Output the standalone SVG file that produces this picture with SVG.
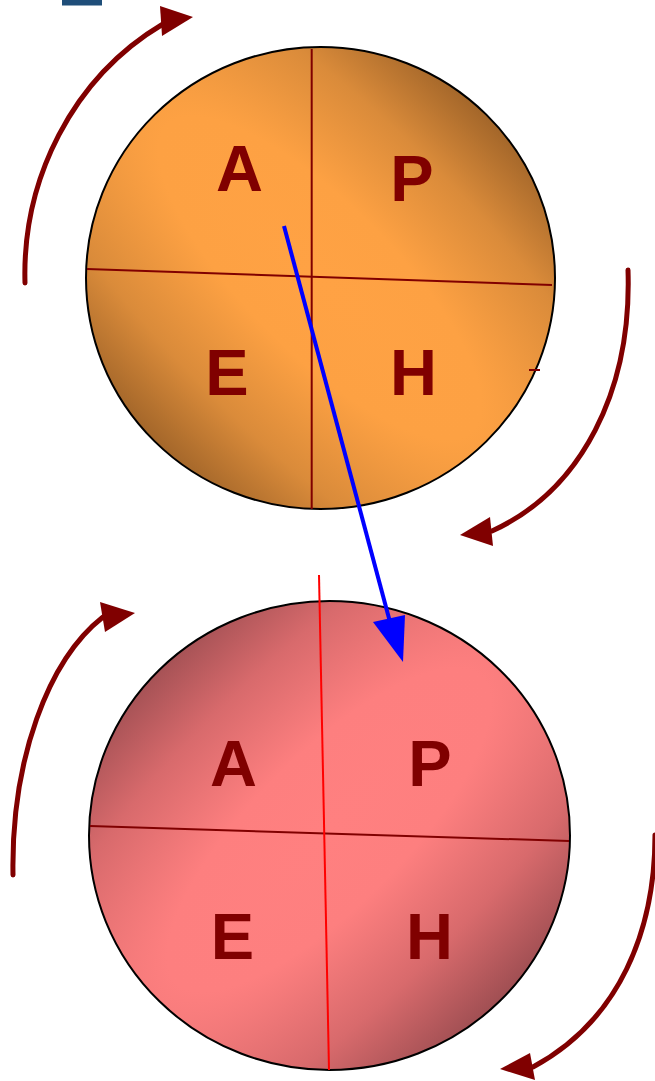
<svg xmlns="http://www.w3.org/2000/svg" width="655" height="1081" viewBox="0 0 655 1081">
<style>
.disk{stroke:#000;stroke-width:2}
.div{stroke:#800000;stroke-width:2}
.lbl{font-family:"Liberation Sans",Arial,sans-serif;font-weight:bold;font-size:65px;fill:#800000;text-anchor:middle}
.rot{fill:none;stroke:#800000;stroke-width:5;stroke-linecap:round}
.rothead{fill:#800000}
</style>
<defs>
<radialGradient id="gOrange" gradientUnits="userSpaceOnUse" cx="0" cy="0" r="1" gradientTransform="translate(320 278) rotate(45) scale(720 245)">
<stop offset="0" stop-color="#FFA244"/>
<stop offset="0.3" stop-color="#FDA143"/>
<stop offset="0.65" stop-color="#DA8B3A"/>
<stop offset="1" stop-color="#9A6027"/>
</radialGradient>
<radialGradient id="gRed" gradientUnits="userSpaceOnUse" cx="0" cy="0" r="1" gradientTransform="translate(329 830) rotate(-45) scale(720 250)">
<stop offset="0" stop-color="#FF8080"/>
<stop offset="0.3" stop-color="#FD7F7F"/>
<stop offset="0.65" stop-color="#D86A6C"/>
<stop offset="1" stop-color="#9A4C50"/>
</radialGradient>
</defs>
<rect x="62" y="0" width="40" height="5.5" fill="#1F4E79"/>
<g id="disk-top">
<ellipse class="disk" cx="320.5" cy="278" rx="234.5" ry="231" fill="url(#gOrange)"/>
<line class="div" x1="311.7" y1="49" x2="311.7" y2="509"/>
<line class="div" x1="87" y1="269" x2="552" y2="285"/>
<line class="div" x1="529" y1="370" x2="540" y2="370"/>
<text class="lbl" x="239.5" y="191">A</text>
<text class="lbl" x="412" y="201">P</text>
<text class="lbl" x="227" y="395">E</text>
<text class="lbl" x="413.5" y="395">H</text>
</g>
<g id="disk-bottom">
<ellipse class="disk" cx="329.5" cy="835.5" rx="240.5" ry="234.5" fill="url(#gRed)"/>
<line class="div" x1="90" y1="826" x2="569" y2="841"/>
<line x1="319" y1="575" x2="329" y2="1070" stroke="#FF0000" stroke-width="2"/>
<text class="lbl" x="233.5" y="786">A</text>
<text class="lbl" x="430" y="786">P</text>
<text class="lbl" x="232.5" y="959">E</text>
<text class="lbl" x="429.5" y="959">H</text>
</g>
<g id="connectors">
<path class="rot" d="M25,283 C22,180 72,78 163,24"/>
<polygon class="rothead" points="193,17 160,6 162,36"/>
<path class="rot" d="M628,270 C632,390 582,490 492,531"/>
<polygon class="rothead" points="460,535 490,517 493,546"/>
<path class="rot" d="M13,875 C11,760 48,660 103,617"/>
<polygon class="rothead" points="135,613 100,602 105,632"/>
<path class="rot" d="M655,835 C655,930 620,1020 533,1067"/>
<polygon class="rothead" points="500,1069 530,1053 535,1080"/>
<line x1="284" y1="226" x2="390" y2="622" stroke="#0000FF" stroke-width="4"/>
<polygon points="403,662 373,622 405,615" fill="#0000FF"/>
</g>
</svg>
